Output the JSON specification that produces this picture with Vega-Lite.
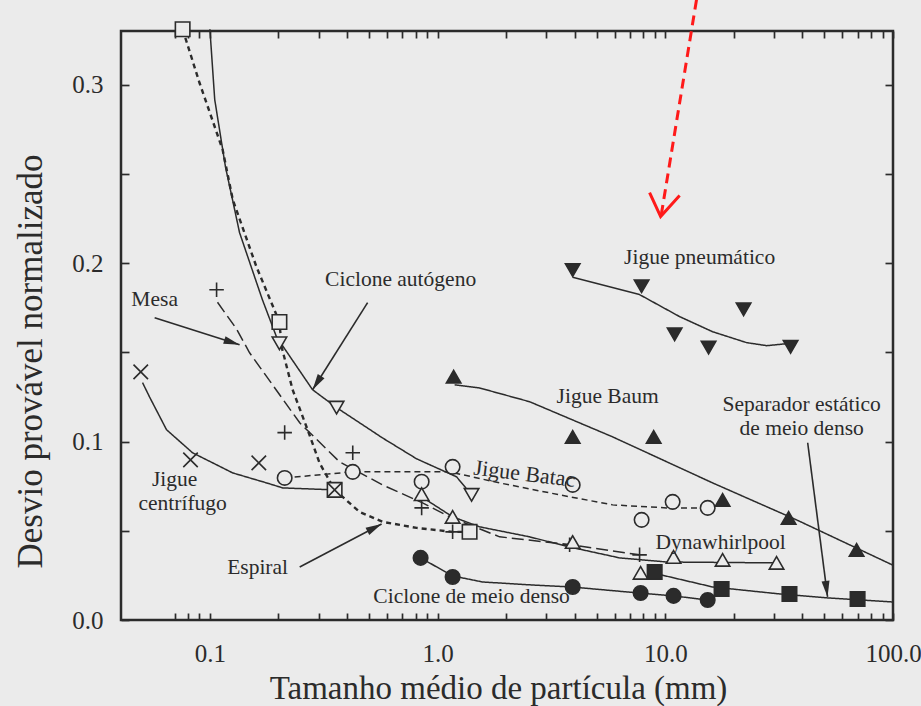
{
  "$schema": "https://vega.github.io/schema/vega-lite/v6.json",
  "width": 772,
  "height": 589,
  "autosize": {"type": "none"},
  "padding": {"left": 121, "top": 31, "right": 28, "bottom": 86},
  "background": "#ebebeb",
  "config": {
    "view": {"stroke": "#2b2b2b", "strokeWidth": 2.5, "fill": "#ebebeb"},
    "axis": {"domain": false, "grid": false, "tickColor": "#2b2b2b", "tickWidth": 1.7, "labelFont": "Liberation Serif", "titleFont": "Liberation Serif", "labelColor": "#2b2b2b", "titleColor": "#2b2b2b", "labelFontSize": 25, "titleFontWeight": "normal"},
    "text": {"font": "Liberation Serif", "fontSize": 22, "color": "#2b2b2b"}
  },
  "datasets": {
    "curves": [
      {"s": "Ciclone autógeno", "x": 0.1, "y": 0.331},
      {"s": "Ciclone autógeno", "x": 0.105, "y": 0.2916},
      {"s": "Ciclone autógeno", "x": 0.117, "y": 0.254},
      {"s": "Ciclone autógeno", "x": 0.135, "y": 0.217},
      {"s": "Ciclone autógeno", "x": 0.170, "y": 0.1795},
      {"s": "Ciclone autógeno", "x": 0.196, "y": 0.1587},
      {"s": "Ciclone autógeno", "x": 0.2825, "y": 0.129},
      {"s": "Ciclone autógeno", "x": 0.360, "y": 0.119},
      {"s": "Ciclone autógeno", "x": 0.573, "y": 0.102},
      {"s": "Ciclone autógeno", "x": 0.809, "y": 0.0903},
      {"s": "Ciclone autógeno", "x": 1.212, "y": 0.0802},
      {"s": "Ciclone autógeno", "x": 1.41, "y": 0.0701},
      {"s": "Espiral", "x": 0.0759, "y": 0.331},
      {"s": "Espiral", "x": 0.090, "y": 0.301},
      {"s": "Espiral", "x": 0.1137, "y": 0.2636},
      {"s": "Espiral", "x": 0.126, "y": 0.2356},
      {"s": "Espiral", "x": 0.160, "y": 0.198},
      {"s": "Espiral", "x": 0.202, "y": 0.167},
      {"s": "Espiral", "x": 0.2065, "y": 0.1531},
      {"s": "Espiral", "x": 0.2308, "y": 0.129},
      {"s": "Espiral", "x": 0.2686, "y": 0.1066},
      {"s": "Espiral", "x": 0.303, "y": 0.088},
      {"s": "Espiral", "x": 0.353, "y": 0.0729},
      {"s": "Espiral", "x": 0.454, "y": 0.0606},
      {"s": "Espiral", "x": 0.573, "y": 0.055},
      {"s": "Espiral", "x": 0.809, "y": 0.0516},
      {"s": "Espiral", "x": 1.164, "y": 0.0494},
      {"s": "Espiral", "x": 1.382, "y": 0.0494},
      {"s": "Mesa", "x": 0.108, "y": 0.178},
      {"s": "Mesa", "x": 0.131, "y": 0.163},
      {"s": "Mesa", "x": 0.1494, "y": 0.1497},
      {"s": "Mesa", "x": 0.248, "y": 0.1105},
      {"s": "Mesa", "x": 0.371, "y": 0.0886},
      {"s": "Mesa", "x": 0.573, "y": 0.0757},
      {"s": "Mesa", "x": 0.859, "y": 0.0656},
      {"s": "Mesa", "x": 1.129, "y": 0.0578},
      {"s": "Mesa", "x": 1.872, "y": 0.0466},
      {"s": "Mesa", "x": 3.88, "y": 0.0421},
      {"s": "Mesa", "x": 7.71, "y": 0.0365},
      {"s": "Jigue centrífugo", "x": 0.0506, "y": 0.133},
      {"s": "Jigue centrífugo", "x": 0.0543, "y": 0.125},
      {"s": "Jigue centrífugo", "x": 0.0645, "y": 0.1066},
      {"s": "Jigue centrífugo", "x": 0.0839, "y": 0.0937},
      {"s": "Jigue centrífugo", "x": 0.126, "y": 0.0824},
      {"s": "Jigue centrífugo", "x": 0.1775, "y": 0.0768},
      {"s": "Jigue centrífugo", "x": 0.209, "y": 0.074},
      {"s": "Jigue centrífugo", "x": 0.353, "y": 0.0729},
      {"s": "Jigue Batac", "x": 0.213, "y": 0.0796},
      {"s": "Jigue Batac", "x": 0.424, "y": 0.083},
      {"s": "Jigue Batac", "x": 1.129, "y": 0.083},
      {"s": "Jigue Batac", "x": 1.872, "y": 0.0768},
      {"s": "Jigue Batac", "x": 3.44, "y": 0.0701},
      {"s": "Jigue Batac", "x": 5.87, "y": 0.0645},
      {"s": "Jigue Batac", "x": 10.13, "y": 0.0628},
      {"s": "Jigue Batac", "x": 15.35, "y": 0.0628},
      {"s": "Dynawhirlpool", "x": 0.851, "y": 0.069},
      {"s": "Dynawhirlpool", "x": 1.164, "y": 0.0578},
      {"s": "Dynawhirlpool", "x": 1.529, "y": 0.0522},
      {"s": "Dynawhirlpool", "x": 2.535, "y": 0.0466},
      {"s": "Dynawhirlpool", "x": 3.80, "y": 0.0409},
      {"s": "Dynawhirlpool", "x": 6.30, "y": 0.0348},
      {"s": "Dynawhirlpool", "x": 10.13, "y": 0.0325},
      {"s": "Dynawhirlpool", "x": 30.8, "y": 0.032},
      {"s": "Ciclone de meio denso", "x": 0.842, "y": 0.0348},
      {"s": "Ciclone de meio denso", "x": 1.164, "y": 0.0247},
      {"s": "Ciclone de meio denso", "x": 1.576, "y": 0.0213},
      {"s": "Ciclone de meio denso", "x": 2.612, "y": 0.0196},
      {"s": "Ciclone de meio denso", "x": 3.88, "y": 0.0185},
      {"s": "Ciclone de meio denso", "x": 7.71, "y": 0.0151},
      {"s": "Ciclone de meio denso", "x": 10.87, "y": 0.0135},
      {"s": "Ciclone de meio denso", "x": 15.35, "y": 0.0112},
      {"s": "Separador estático de meio denso", "x": 9.64, "y": 0.0252},
      {"s": "Separador estático de meio denso", "x": 16.14, "y": 0.0185},
      {"s": "Separador estático de meio denso", "x": 31.8, "y": 0.0146},
      {"s": "Separador estático de meio denso", "x": 52.7, "y": 0.0123},
      {"s": "Separador estático de meio denso", "x": 99.6, "y": 0.0101},
      {"s": "Jigue Baum", "x": 1.188, "y": 0.1318},
      {"s": "Jigue Baum", "x": 1.529, "y": 0.130},
      {"s": "Jigue Baum", "x": 2.535, "y": 0.1223},
      {"s": "Jigue Baum", "x": 5.87, "y": 0.1026},
      {"s": "Jigue Baum", "x": 16.14, "y": 0.0768},
      {"s": "Jigue Baum", "x": 37.7, "y": 0.0561},
      {"s": "Jigue Baum", "x": 99.6, "y": 0.0308},
      {"s": "Jigue pneumático", "x": 3.92, "y": 0.192},
      {"s": "Jigue pneumático", "x": 7.71, "y": 0.1823},
      {"s": "Jigue pneumático", "x": 11.55, "y": 0.170},
      {"s": "Jigue pneumático", "x": 16.14, "y": 0.1615},
      {"s": "Jigue pneumático", "x": 22.75, "y": 0.1554},
      {"s": "Jigue pneumático", "x": 27.9, "y": 0.1537},
      {"s": "Jigue pneumático", "x": 34.1, "y": 0.1548}
    ],
    "pts": [
      {"s": "Ciclone autógeno", "x": 0.202, "y": 0.155},
      {"s": "Ciclone autógeno", "x": 0.360, "y": 0.119},
      {"s": "Ciclone autógeno", "x": 1.41, "y": 0.0701},
      {"s": "Espiral", "x": 0.0759, "y": 0.331},
      {"s": "Espiral", "x": 0.202, "y": 0.167},
      {"s": "Espiral", "x": 0.353, "y": 0.0729},
      {"s": "Espiral", "x": 1.382, "y": 0.0494},
      {"s": "Mesa", "x": 0.107, "y": 0.185},
      {"s": "Mesa", "x": 0.213, "y": 0.105},
      {"s": "Mesa", "x": 0.424, "y": 0.0937},
      {"s": "Mesa", "x": 0.851, "y": 0.0628},
      {"s": "Mesa", "x": 1.164, "y": 0.0494},
      {"s": "Mesa", "x": 3.80, "y": 0.0421},
      {"s": "Mesa", "x": 7.71, "y": 0.0365},
      {"s": "Jigue centrífugo", "x": 0.0497, "y": 0.139},
      {"s": "Jigue centrífugo", "x": 0.0822, "y": 0.0897},
      {"s": "Jigue centrífugo", "x": 0.164, "y": 0.088},
      {"s": "Jigue centrífugo", "x": 0.353, "y": 0.0729},
      {"s": "Jigue Batac", "x": 0.213, "y": 0.0796},
      {"s": "Jigue Batac", "x": 0.424, "y": 0.083},
      {"s": "Jigue Batac", "x": 0.851, "y": 0.0775},
      {"s": "Jigue Batac", "x": 1.164, "y": 0.0858},
      {"s": "Jigue Batac", "x": 3.92, "y": 0.0757},
      {"s": "Jigue Batac", "x": 7.87, "y": 0.0561},
      {"s": "Jigue Batac", "x": 10.77, "y": 0.0662},
      {"s": "Jigue Batac", "x": 15.35, "y": 0.0628},
      {"s": "Dynawhirlpool", "x": 0.851, "y": 0.0705},
      {"s": "Dynawhirlpool", "x": 1.164, "y": 0.0578},
      {"s": "Dynawhirlpool", "x": 3.92, "y": 0.0437},
      {"s": "Dynawhirlpool", "x": 7.79, "y": 0.0264},
      {"s": "Dynawhirlpool", "x": 10.87, "y": 0.0353},
      {"s": "Dynawhirlpool", "x": 17.85, "y": 0.0337},
      {"s": "Dynawhirlpool", "x": 30.8, "y": 0.032},
      {"s": "Ciclone de meio denso", "x": 0.842, "y": 0.0348},
      {"s": "Ciclone de meio denso", "x": 1.164, "y": 0.0241},
      {"s": "Ciclone de meio denso", "x": 3.92, "y": 0.0185},
      {"s": "Ciclone de meio denso", "x": 7.79, "y": 0.0151},
      {"s": "Ciclone de meio denso", "x": 10.87, "y": 0.0135},
      {"s": "Ciclone de meio denso", "x": 15.35, "y": 0.0112},
      {"s": "Separador estático de meio denso", "x": 8.98, "y": 0.0269},
      {"s": "Separador estático de meio denso", "x": 17.67, "y": 0.0174},
      {"s": "Separador estático de meio denso", "x": 35.1, "y": 0.0146},
      {"s": "Separador estático de meio denso", "x": 69.9, "y": 0.0118},
      {"s": "Jigue Baum", "x": 1.176, "y": 0.1363},
      {"s": "Jigue Baum", "x": 3.92, "y": 0.1026},
      {"s": "Jigue Baum", "x": 8.89, "y": 0.1026},
      {"s": "Jigue Baum", "x": 17.85, "y": 0.0673},
      {"s": "Jigue Baum", "x": 34.8, "y": 0.0572},
      {"s": "Jigue Baum", "x": 69.2, "y": 0.0393},
      {"s": "Jigue pneumático", "x": 3.92, "y": 0.196},
      {"s": "Jigue pneumático", "x": 7.87, "y": 0.187},
      {"s": "Jigue pneumático", "x": 10.99, "y": 0.160},
      {"s": "Jigue pneumático", "x": 15.49, "y": 0.1526},
      {"s": "Jigue pneumático", "x": 22.07, "y": 0.174},
      {"s": "Jigue pneumático", "x": 35.5, "y": 0.153}
    ],
    "arrows": [
      {"a": "Mesa", "p": "start", "x": 0.0572, "y": 0.1694},
      {"a": "Mesa", "p": "tip", "x": 0.1350, "y": 0.1542},
      {"a": "Ciclone autógeno", "p": "start", "x": 0.4928, "y": 0.1778},
      {"a": "Ciclone autógeno", "p": "tip", "x": 0.2825, "y": 0.129},
      {"a": "Espiral", "p": "start", "x": 0.248, "y": 0.0297},
      {"a": "Espiral", "p": "tip", "x": 0.5675, "y": 0.0538},
      {"a": "Separador", "p": "start", "x": 42.2, "y": 0.0993},
      {"a": "Separador", "p": "tip", "x": 51.6, "y": 0.0129}
    ],
    "red": [
      {"a": "shaft", "x": 13.72, "y": 0.3477},
      {"a": "shaft", "x": 9.6, "y": 0.227},
      {"a": "head", "x": 8.53, "y": 0.2395},
      {"a": "head", "x": 9.54, "y": 0.226},
      {"a": "head", "x": 11.56, "y": 0.2378}
    ],
    "labels": [
      {"t": "Ciclone autógeno", "x": 0.688, "y": 0.1907},
      {"t": "Mesa", "x": 0.0572, "y": 0.1795},
      {"t": "Jigue pneumático", "x": 14.15, "y": 0.203},
      {"t": "Jigue Baum", "x": 5.58, "y": 0.125},
      {"t": "Separador estático", "x": 39.7, "y": 0.1203},
      {"t": "de meio denso", "x": 39.7, "y": 0.1069},
      {"t": "Dynawhirlpool", "x": 17.5, "y": 0.0432},
      {"t": "Ciclone de meio denso", "x": 1.41, "y": 0.0129},
      {"t": "Espiral", "x": 0.162, "y": 0.0292},
      {"t": "Jigue", "x": 0.070, "y": 0.0783},
      {"t": "centrífugo", "x": 0.0759, "y": 0.0648}
    ],
    "batac": [
      {"t": "Jigue Batac", "x": 2.41, "y": 0.0819}
    ]
  },
  "layer": [
    {
      "data": {"name": "arrows"},
      "mark": {"type": "line", "color": "#2b2b2b", "strokeWidth": 1.6},
      "encoding": {
        "x": {"field": "x", "type": "quantitative", "scale": {"type": "log", "domain": [0.0407, 100], "nice": false}, "axis": null},
        "y": {"field": "y", "type": "quantitative", "scale": {"domain": [0, 0.33], "nice": false, "zero": false}, "axis": null},
        "detail": {"field": "a"}
      }
    },
    {
      "data": {"name": "curves"},
      "transform": [{"filter": "datum.s !== 'Espiral'"}],
      "mark": {"type": "line", "color": "#2b2b2b", "strokeWidth": 1.5},
      "encoding": {
        "x": {"field": "x", "type": "quantitative", "scale": {"type": "log", "domain": [0.0407, 100], "nice": false},
          "axis": {"orient": "top", "offset": -7, "tickSize": 7, "values": [0.07, 0.08, 0.09, 0.1, 0.2, 0.3, 0.4, 0.5, 0.6, 0.7, 0.8, 0.9, 1, 2, 3, 4, 5, 6, 7, 8, 9, 10, 20, 30, 40, 50, 60, 70, 80, 90, 100], "labels": false, "title": null}},
        "y": {"field": "y", "type": "quantitative", "scale": {"domain": [0, 0.33], "nice": false, "zero": false},
          "axis": {"orient": "right", "offset": -8, "tickSize": 8, "values": [0, 0.05, 0.1, 0.15, 0.2, 0.25, 0.3], "labels": false, "title": null}},
        "detail": {"field": "s"},
        "strokeDash": {"field": "s", "type": "nominal", "legend": null,
          "scale": {"domain": ["Ciclone autógeno", "Mesa", "Jigue centrífugo", "Jigue Batac", "Dynawhirlpool", "Ciclone de meio denso", "Separador estático de meio denso", "Jigue Baum", "Jigue pneumático"],
            "range": [[1, 0], [12, 5], [1, 0], [6, 4], [1, 0], [1, 0], [1, 0], [1, 0], [1, 0]]}}
      }
    },
    {
      "data": {"name": "curves"},
      "transform": [{"filter": "datum.s === 'Espiral'"}],
      "mark": {"type": "line", "color": "#2b2b2b", "strokeWidth": 2.4, "strokeDash": [5, 4]},
      "encoding": {
        "x": {"field": "x", "type": "quantitative", "scale": {"type": "log", "domain": [0.0407, 100], "nice": false}, "axis": null},
        "y": {"field": "y", "type": "quantitative", "scale": {"domain": [0, 0.33], "nice": false, "zero": false}, "axis": null}
      }
    },
    {
      "data": {"name": "red"},
      "transform": [{"filter": "datum.a === 'shaft'"}],
      "mark": {"type": "line", "color": "#ff1a1a", "strokeWidth": 3, "strokeDash": [10, 6]},
      "encoding": {
        "x": {"field": "x", "type": "quantitative", "scale": {"type": "log", "domain": [0.0407, 100], "nice": false}, "axis": null},
        "y": {"field": "y", "type": "quantitative", "scale": {"domain": [0, 0.33], "nice": false, "zero": false}, "axis": null}
      }
    },
    {
      "data": {"name": "red"},
      "transform": [{"filter": "datum.a === 'head'"}],
      "mark": {"type": "line", "color": "#ff1a1a", "strokeWidth": 3},
      "encoding": {
        "x": {"field": "x", "type": "quantitative", "scale": {"type": "log", "domain": [0.0407, 100], "nice": false}, "axis": null},
        "y": {"field": "y", "type": "quantitative", "scale": {"domain": [0, 0.33], "nice": false, "zero": false}, "axis": null}
      }
    },
    {
      "data": {"name": "pts"},
      "mark": {"type": "point", "filled": true, "size": 210, "stroke": "#2b2b2b", "strokeWidth": 1.6, "opacity": 1},
      "encoding": {
        "x": {"field": "x", "type": "quantitative", "scale": {"type": "log", "domain": [0.0407, 100], "nice": false},
          "axis": {"orient": "bottom", "offset": -7, "tickSize": 7, "values": [0.07, 0.08, 0.09, 0.1, 0.2, 0.3, 0.4, 0.5, 0.6, 0.7, 0.8, 0.9, 1, 2, 3, 4, 5, 6, 7, 8, 9, 10, 20, 30, 40, 50, 60, 70, 80, 90, 100],
            "labelExpr": "indexof([0.1,1,10,100], datum.value) >= 0 ? format(datum.value, '.1f') : ''",
            "labelPadding": 21, "labelFlush": false, "labelOverlap": false, "labelBound": false,
            "title": "Tamanho médio de partícula (mm)", "titleFontSize": 33, "titleX": 377, "titleY": 75, "titleBaseline": "middle", "titleAlign": "center", "titleAngle": 0}},
        "y": {"field": "y", "type": "quantitative", "scale": {"domain": [0, 0.33], "nice": false, "zero": false},
          "axis": {"orient": "left", "offset": -8, "tickSize": 8, "values": [0, 0.05, 0.1, 0.15, 0.2, 0.25, 0.3],
            "labelExpr": "indexof([0,0.1,0.2,0.3], datum.value) >= 0 ? format(datum.value, '.1f') : ''",
            "labelPadding": 18, "labelFlush": false, "labelOverlap": false,
            "title": "Desvio provável normalizado", "titleFontSize": 35, "titleX": -99, "titleY": 330, "titleAngle": -90, "titleBaseline": "middle", "titleAlign": "center"}},
        "shape": {"field": "s", "type": "nominal", "legend": null,
          "scale": {"domain": ["Ciclone autógeno", "Espiral", "Mesa", "Jigue centrífugo", "Jigue Batac", "Dynawhirlpool", "Ciclone de meio denso", "Separador estático de meio denso", "Jigue Baum", "Jigue pneumático"],
            "range": ["triangle-down", "square", "M-1,0L1,0M0,-1L0,1", "M-1,-1L1,1M-1,1L1,-1", "circle", "triangle-up", "circle", "square", "triangle-up", "triangle-down"]}},
        "fill": {"field": "s", "type": "nominal", "legend": null,
          "scale": {"domain": ["Ciclone autógeno", "Espiral", "Mesa", "Jigue centrífugo", "Jigue Batac", "Dynawhirlpool", "Ciclone de meio denso", "Separador estático de meio denso", "Jigue Baum", "Jigue pneumático"],
            "range": ["#ebebeb", "#ebebeb", "#ebebeb", "#ebebeb", "#ebebeb", "#ebebeb", "#2b2b2b", "#2b2b2b", "#2b2b2b", "#2b2b2b"]}}
      }
    },
    {
      "data": {"name": "arrows"},
      "transform": [{"filter": "datum.p === 'tip' && datum.a === 'Mesa'"}],
      "mark": {"type": "point", "shape": "M0,0L0.5,2L-0.5,2Z", "size": 256, "filled": true, "color": "#2b2b2b", "opacity": 1, "angle": 107.6},
      "encoding": {
        "x": {"field": "x", "type": "quantitative", "scale": {"type": "log", "domain": [0.0407, 100], "nice": false}, "axis": null},
        "y": {"field": "y", "type": "quantitative", "scale": {"domain": [0, 0.33], "nice": false, "zero": false}, "axis": null}
      }
    },
    {
      "data": {"name": "arrows"},
      "transform": [{"filter": "datum.p === 'tip' && datum.a === 'Ciclone autógeno'"}],
      "mark": {"type": "point", "shape": "M0,0L0.5,2L-0.5,2Z", "size": 256, "filled": true, "color": "#2b2b2b", "opacity": 1, "angle": 212.3},
      "encoding": {
        "x": {"field": "x", "type": "quantitative", "scale": {"type": "log", "domain": [0.0407, 100], "nice": false}, "axis": null},
        "y": {"field": "y", "type": "quantitative", "scale": {"domain": [0, 0.33], "nice": false, "zero": false}, "axis": null}
      }
    },
    {
      "data": {"name": "arrows"},
      "transform": [{"filter": "datum.p === 'tip' && datum.a === 'Espiral'"}],
      "mark": {"type": "point", "shape": "M0,0L0.5,2L-0.5,2Z", "size": 256, "filled": true, "color": "#2b2b2b", "opacity": 1, "angle": 62.3},
      "encoding": {
        "x": {"field": "x", "type": "quantitative", "scale": {"type": "log", "domain": [0.0407, 100], "nice": false}, "axis": null},
        "y": {"field": "y", "type": "quantitative", "scale": {"domain": [0, 0.33], "nice": false, "zero": false}, "axis": null}
      }
    },
    {
      "data": {"name": "arrows"},
      "transform": [{"filter": "datum.p === 'tip' && datum.a === 'Separador'"}],
      "mark": {"type": "point", "shape": "M0,0L0.5,2L-0.5,2Z", "size": 256, "filled": true, "color": "#2b2b2b", "opacity": 1, "angle": 172.6},
      "encoding": {
        "x": {"field": "x", "type": "quantitative", "scale": {"type": "log", "domain": [0.0407, 100], "nice": false}, "axis": null},
        "y": {"field": "y", "type": "quantitative", "scale": {"domain": [0, 0.33], "nice": false, "zero": false}, "axis": null}
      }
    },
    {
      "data": {"name": "labels"},
      "mark": {"type": "text", "align": "center", "baseline": "middle", "fontSize": 21.5},
      "encoding": {
        "x": {"field": "x", "type": "quantitative", "scale": {"type": "log", "domain": [0.0407, 100], "nice": false}, "axis": null},
        "y": {"field": "y", "type": "quantitative", "scale": {"domain": [0, 0.33], "nice": false, "zero": false}, "axis": null},
        "text": {"field": "t"}
      }
    },
    {
      "data": {"name": "batac"},
      "mark": {"type": "text", "align": "center", "baseline": "middle", "fontSize": 22, "angle": 7},
      "encoding": {
        "x": {"field": "x", "type": "quantitative", "scale": {"type": "log", "domain": [0.0407, 100], "nice": false}, "axis": null},
        "y": {"field": "y", "type": "quantitative", "scale": {"domain": [0, 0.33], "nice": false, "zero": false}, "axis": null},
        "text": {"field": "t"}
      }
    }
  ],
  "resolve": {"axis": {"x": "independent", "y": "independent"}}
}
